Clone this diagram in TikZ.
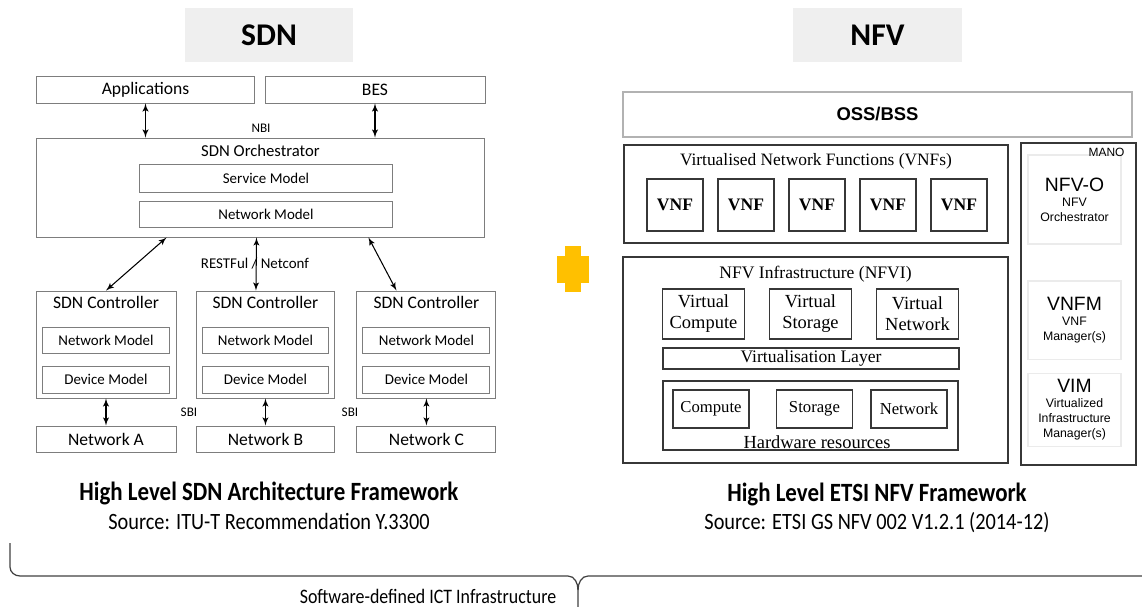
\documentclass[tikz,border=0pt]{standalone}
\usepackage{fontspec}
\setmainfont{Carlito}
\newfontfamily\serifnfv{Liberation Serif}
\newfontfamily\sansnfv{Liberation Sans}
\newfontfamily\condfont[FakeStretch=0.87]{Carlito}
\usepackage{tikz}
\usetikzlibrary{shapes,arrows}
\usetikzlibrary{positioning,calc}
\definecolor{sdngray}{RGB}{125,125,125}
\definecolor{nfvdark}{RGB}{55,55,55}
\definecolor{titlegray}{RGB}{239,239,239}
\definecolor{plusyellow}{RGB}{255,192,0}
\tikzstyle{title} = [rectangle, fill=titlegray, minimum width=3.38cm, minimum height=1.08cm,
font=\fontsize{18}{20}\selectfont\bfseries]
\tikzstyle{block} = [rectangle, draw=sdngray, line width=0.55pt, inner sep=0pt,
font=\fontsize{10}{12}\selectfont]
\tikzstyle{model} = [block, minimum width=2.54cm, minimum height=0.53cm, font=\fontsize{8.5}{10}\selectfont]
\tikzstyle{iface} = [font=\fontsize{7.5}{9}\selectfont]
\tikzstyle{nfvblock} = [rectangle, draw=nfvdark, line width=0.9pt, inner sep=0pt, align=center,
font=\serifnfv\fontsize{10.5}{12}\selectfont]
\tikzstyle{manobox} = [rectangle, draw=black!8, line width=0.6pt, align=center, minimum width=1.86cm,
font=\sansnfv\fontsize{7}{8.6}\selectfont]
\tikzstyle{head} = [font=\condfont\bfseries\fontsize{15}{17}\selectfont]
\tikzstyle{src} = [font=\condfont\fontsize{13.3}{15}\selectfont]
\tikzstyle{line} = [draw, latex'-latex', line width=0.6pt]

\begin{document}
\begin{tikzpicture}[x=0.02cm, y=-0.02cm, node distance = 2cm, auto]
\useasboundingbox (0,0) rectangle (1142,607);
% Place nodes
% SDN side
\node [title] (sdn) at (269,35) {SDN};
\node [block, minimum width=4.38cm, minimum height=0.54cm] (apps) at (145.5,89.5) {Applications};
\node [block, minimum width=4.40cm, minimum height=0.54cm] (bes) at (375,89.5) {BES};
\node [iface] (nbi) at (261,128) {NBI};
\node [block, minimum width=8.98cm, minimum height=1.98cm] (orch) at (260.5,187.5) {};
\node [below=0.14cm of orch.north, inner sep=0pt, font=\fontsize{9.5}{11}\selectfont] (orchlbl) {SDN Orchestrator};
\node [model, minimum width=5.08cm, minimum height=0.56cm] (svc) at (266,178) {Service Model};
\node [model, below of=svc, node distance=0.73cm, minimum width=5.08cm] (nwm) {Network Model};
\node [font=\fontsize{8.5}{10}\selectfont] (rest) at (255,264) {RESTFul / Netconf};

\node [block, minimum width=2.80cm, minimum height=2.14cm] (ctrl1) at (106,344.5) {};
\node [block, right of=ctrl1, node distance=3.19cm, minimum width=2.78cm, minimum height=2.14cm] (ctrl2) {};
\node [block, right of=ctrl2, node distance=3.22cm, minimum width=2.78cm, minimum height=2.14cm] (ctrl3) {};
\node [below=0.11cm of ctrl1.north, inner sep=0pt] (ctrllbl1) {SDN Controller};
\node [below=0.11cm of ctrl2.north, inner sep=0pt] (ctrllbl2) {SDN Controller};
\node [below=0.11cm of ctrl3.north, inner sep=0pt] (ctrllbl3) {SDN Controller};
\node [model, below=0.72cm of ctrl1.north] (nm1) {Network Model};
\node [model, below=0.72cm of ctrl2.north] (nm2) {Network Model};
\node [model, below=0.72cm of ctrl3.north] (nm3) {Network Model};
\node [model, below of=nm1, node distance=0.79cm] (dm1) {Device Model};
\node [model, below of=nm2, node distance=0.79cm] (dm2) {Device Model};
\node [model, below of=nm3, node distance=0.79cm] (dm3) {Device Model};
\node [block, below of=ctrl1, node distance=1.9cm, minimum width=2.80cm, minimum height=0.54cm] (neta) {Network A};
\node [block, below of=ctrl2, node distance=1.9cm, minimum width=2.78cm, minimum height=0.54cm] (netb) {Network B};
\node [block, below of=ctrl3, node distance=1.9cm, minimum width=2.78cm, minimum height=0.54cm] (netc) {Network C};
\node [iface] (sbi1) at (189,412) {SBI};
\node [iface] (sbi2) at (350,412) {SBI};

\node [head] (sdnhead) at (269,493) {High Level SDN Architecture Framework};
\node [src, below of=sdnhead, node distance=0.56cm] (sdnsrc) {Source: ITU-T Recommendation Y.3300};

% NFV side
\node [title] (nfv) at (877.5,35) {NFV};
\node [rectangle, draw=black!30, line width=0.8pt, minimum width=10.18cm, minimum height=0.90cm,
font=\sansnfv\bfseries\fontsize{10.5}{12}\selectfont] (oss) at (877.5,114.5) {OSS/BSS};

\node [nfvblock, minimum width=7.68cm, minimum height=1.96cm] (vnfs) at (816,194) {};
\node [below=0.18cm of vnfs.north, inner sep=0pt, font=\serifnfv\fontsize{9.9}{11}\selectfont] (vnfslbl) {Virtualised Network Functions (VNFs)};
\node [nfvblock, minimum width=1.12cm, minimum height=1.04cm, font=\serifnfv\bfseries\fontsize{10}{12}\selectfont] (vnf1) at (675,205) {VNF};
\node [nfvblock, right of=vnf1, node distance=1.42cm, minimum width=1.12cm, minimum height=1.04cm, font=\serifnfv\bfseries\fontsize{10}{12}\selectfont] (vnf2) {VNF};
\node [nfvblock, right of=vnf2, node distance=1.42cm, minimum width=1.12cm, minimum height=1.04cm, font=\serifnfv\bfseries\fontsize{10}{12}\selectfont] (vnf3) {VNF};
\node [nfvblock, right of=vnf3, node distance=1.42cm, minimum width=1.12cm, minimum height=1.04cm, font=\serifnfv\bfseries\fontsize{10}{12}\selectfont] (vnf4) {VNF};
\node [nfvblock, right of=vnf4, node distance=1.42cm, minimum width=1.12cm, minimum height=1.04cm, font=\serifnfv\bfseries\fontsize{10}{12}\selectfont] (vnf5) {VNF};

\node [nfvblock, minimum width=7.70cm, minimum height=4.12cm] (nfvi) at (815.5,360) {};
\node [below=0.2cm of nfvi.north, inner sep=0pt, font=\serifnfv\fontsize{10}{12}\selectfont] (nfvilbl) {NFV Infrastructure (NFVI)};
\node [nfvblock, minimum width=1.64cm, minimum height=1.0cm] (vcomp) at (703.5,314) {Virtual\\Compute};
\node [nfvblock, right of=vcomp, node distance=2.14cm, minimum width=1.64cm, minimum height=1.0cm] (vstor) {Virtual\\Storage};
\node [nfvblock, right of=vstor, node distance=2.14cm, minimum width=1.64cm, minimum height=1.0cm] (vnet) {Virtual\\Network};
\node [nfvblock, minimum width=5.92cm, minimum height=0.42cm, font=\serifnfv\fontsize{10}{12}\selectfont] (vlayer) at (811,358.5) {Virtualisation Layer};
\node [nfvblock, minimum width=5.90cm, minimum height=1.38cm] (hw) at (810.5,415.5) {};
\node [nfvblock, minimum width=1.52cm, minimum height=0.76cm, font=\serifnfv\fontsize{9.5}{11}\selectfont] (comp) at (711,409) {Compute};
\node [nfvblock, right of=comp, node distance=2.07cm, minimum width=1.52cm, minimum height=0.76cm, font=\serifnfv\fontsize{9.5}{11}\selectfont] (stor) {Storage};
\node [nfvblock, right of=stor, node distance=1.89cm, minimum width=1.52cm, minimum height=0.76cm, font=\serifnfv\fontsize{9.5}{11}\selectfont] (netw) {Network};
\node [anchor=base, inner sep=0pt, font=\serifnfv\fontsize{10.5}{12}\selectfont] (hwlbl) at ($(hw.south)+(6.5,-2)$) {Hardware resources};

\node [nfvblock, minimum width=2.30cm, minimum height=6.44cm] (mano) at (1078.5,304) {};
\node [manobox, minimum height=1.78cm] (nfvo) at (1074.5,199.5) {{\fontsize{11}{13}\selectfont NFV-O}\\NFV\\Orchestrator};
\node [manobox, below of=nfvo, node distance=2.42cm, minimum height=1.58cm] (vnfm) {{\fontsize{11}{13}\selectfont VNFM}\\VNF\\Manager(s)};
\node [manobox, below of=vnfm, node distance=1.79cm, minimum height=1.40cm] (vim) {{\fontsize{11}{13}\selectfont VIM}\\Virtualized\\Infrastructure\\Manager(s)};
\node [anchor=north east, inner sep=0pt, font=\sansnfv\fontsize{6.8}{8}\selectfont] (manolbl) at ($(mano.north east)+(-12,6)$) {MANO};

\node [head] (nfvhead) at (877,494) {High Level ETSI NFV Framework};
\node [src, below of=nfvhead, node distance=0.58cm] (nfvsrc) {Source: ETSI GS NFV 002 V1.2.1 (2014-12)};

% plus sign and brace
\fill [plusyellow] (565,246) rectangle (581,292);
\fill [plusyellow] (557,256) rectangle (589,283);
\draw [black!75, line width=0.7pt] (10,543) -- (10,567) to[out=-90,in=180] (20,576) -- (568,576)
  to[out=0,in=90] (578,590) -- (578,607);
\draw [black!75, line width=0.7pt] (578,590) to[out=90,in=180] (588,576) -- (1142,576);
\node [font=\condfont\fontsize{11.7}{13}\selectfont] (ict) at (428,596) {Software-defined ICT Infrastructure};

% Draw edges
\path [line] (apps.south) -- (apps.south |- orch.north);
\path [line] (bes.south) -- (bes.south |- orch.north);
\path [line] ($(orch.south west)+(131,0)$) -- (ctrl1.north);
\path [line] ($(orch.south)+(-4,0)$) -- ($(ctrl2.north)+(-9.5,0)$);
\path [line] ($(orch.south east)+(-117,0)$) -- ($(ctrl3.north)+(-30,0)$);
\path [line] (ctrl1.south) -- (neta.north);
\path [line] (ctrl2.south) -- (netb.north);
\path [line] (ctrl3.south) -- (netc.north);
\end{tikzpicture}
\end{document}
